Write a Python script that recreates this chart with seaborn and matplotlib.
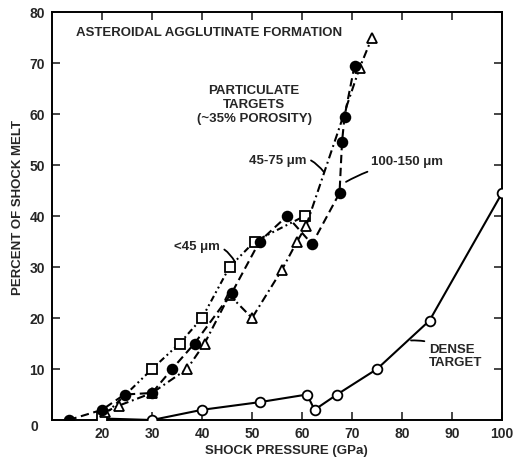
import matplotlib
matplotlib.use("Agg")
import matplotlib.pyplot as plt
import seaborn as sns

# dense target (open circles, solid)
dense_x = [20, 30, 40, 51.5, 61, 62.5, 67, 75, 85.5, 100]
dense_y = [0.3, 0, 2, 3.5, 5, 2, 5, 10, 19.5, 44.5]
# 100-150 um (filled circles, dashed)
coarse_x = [13.3, 20, 24.5, 30, 34, 38.5, 46, 51.5, 57, 62, 67.5, 68, 68.5, 70.5]
coarse_y = [0, 2, 5, 5.3, 10, 15, 25, 35, 40, 34.5, 44.5, 54.5, 59.5, 69.5]
# 45-75 um (open triangles, dash-dot)
med_x = [20.5, 23.3, 30, 37, 40.5, 45.5, 50, 56, 59, 60.8, 71.5, 74]
med_y = [1.5, 2.8, 5.3, 10, 15, 24.5, 20, 29.5, 35, 38, 69, 75]
# <45 um (open squares, dash-dot-dot)
fine_x = [20, 30, 35.5, 40, 45.5, 50.5, 60.5]
fine_y = [0.5, 10, 15, 20, 30, 35, 40]

x_ticks = [20, 30, 40, 50, 60, 70, 80, 90, 100]
y_ticks = [10, 20, 30, 40, 50, 60, 70, 80]

sns.set_theme(style="ticks")
plt.rcParams['font.family'] = ['Liberation Sans', 'DejaVu Sans']
plt.rcParams['font.weight'] = 'bold'

fig = plt.figure(figsize=(5.15, 4.61), dpi=100)
ax = fig.add_axes([0.101, 0.0889, 0.8738, 0.885])

common = dict(color='black', linewidth=1.5, markersize=7,
              markeredgecolor='black', markeredgewidth=1.3,
              sort=False, estimator=None, ax=ax)

sns.lineplot(x=dense_x, y=dense_y, marker='o', markerfacecolor='white',
             linestyle='-', zorder=3, **common)
sns.lineplot(x=fine_x, y=fine_y, marker='s', markerfacecolor='white',
             linestyle=(0, (3, 1.6, 0.9, 1.6, 0.9, 1.6)), zorder=4, **common)
sns.lineplot(x=med_x, y=med_y, marker='^', markerfacecolor='white',
             linestyle=(0, (4, 1.8, 0.9, 1.8)), zorder=4, **common)
sns.lineplot(x=coarse_x, y=coarse_y, marker='o', markerfacecolor='black',
             linestyle=(0, (4, 2.2)), zorder=5, **common)

ax.set_xlim(10, 100)
ax.set_ylim(0, 80)
ax.set_xticks(x_ticks)
ax.set_yticks([0] + y_ticks)
ax.set_yticklabels([''] + [str(v) for v in y_ticks])
ax.tick_params(direction='in', length=6, width=1.2, top=True, right=True,
               labelsize=10, pad=5)
for lab in ax.get_xticklabels() + ax.get_yticklabels():
    lab.set_fontweight('bold')
for sp in ax.spines.values():
    sp.set_linewidth(1.4)
    sp.set_color('black')

ax.text(-0.03, 0, '0', transform=ax.get_yaxis_transform(), ha='right',
        va='top', fontsize=10, fontweight='bold')

ax.set_xlabel('SHOCK PRESSURE (GPa)', fontsize=9.5, fontweight='bold')
ax.set_ylabel('PERCENT OF SHOCK MELT', fontsize=9.5, fontweight='bold')
ax.xaxis.set_label_coords(0.52, -0.062)
ax.yaxis.set_label_coords(-0.062, 0.52)

tkw = dict(fontsize=9.5, fontweight='bold')
ax.text(14.8, 75.9, 'ASTEROIDAL AGGLUTINATE FORMATION', va='center', **tkw)
ax.text(50.4, 61.8, 'PARTICULATE\nTARGETS\n(~35% POROSITY)', ha='center',
        va='center', linespacing=1.25, **tkw)

lead = dict(arrowstyle='-', color='black', lw=1.3, shrinkA=1, shrinkB=0)
ax.annotate('<45 μm', xy=(46.6, 31), xytext=(34.4, 34), va='center',
            arrowprops=dict(connectionstyle='arc3,rad=-0.4', **lead), **tkw)
ax.annotate('45-75 μm', xy=(64.4, 48.6), xytext=(49.4, 50.8), va='center',
            arrowprops=dict(connectionstyle='arc3,rad=-0.4', **lead), **tkw)
ax.annotate('100-150 μm', xy=(68.8, 46.7), xytext=(73.8, 50.6), va='center',
            arrowprops=dict(connectionstyle='arc3,rad=0.1', **lead), **tkw)
ax.annotate('DENSE\nTARGET', xy=(81.8, 15.6), xytext=(85.4, 12.5), va='center',
            linespacing=1.15,
            arrowprops=dict(connectionstyle='arc3,rad=0.2', **lead), **tkw)

fig.savefig('out.png', dpi=100)
